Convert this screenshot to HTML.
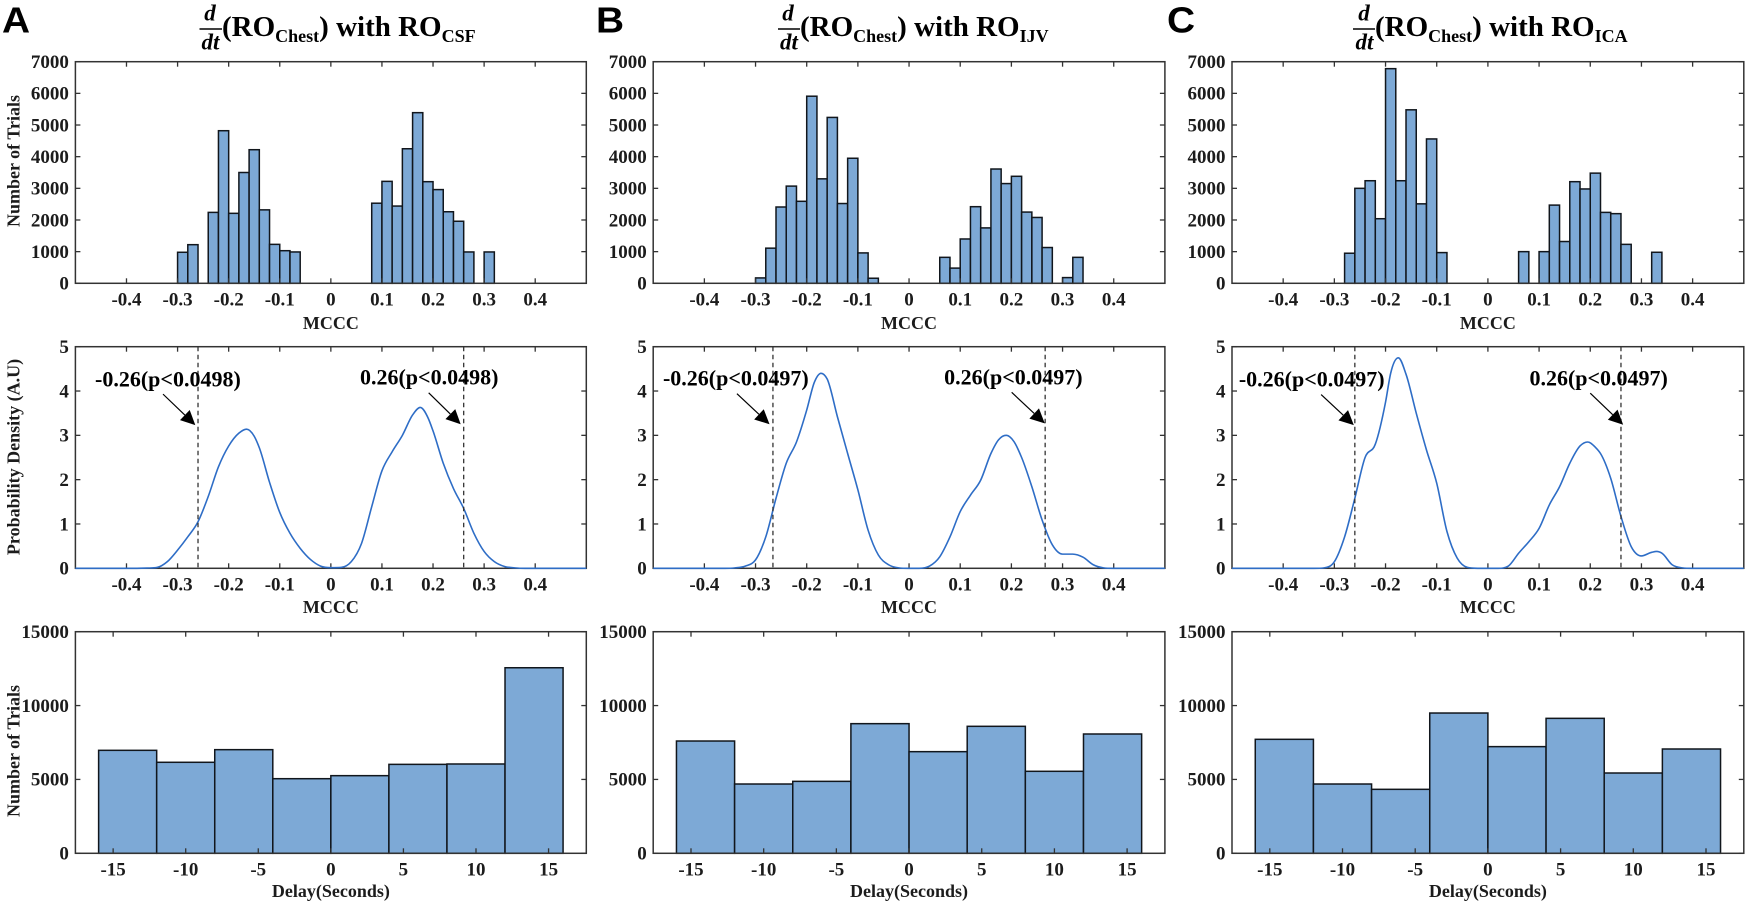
<!DOCTYPE html>
<html lang="en">
<head>
<meta charset="utf-8">
<title>MCCC and delay histograms</title>
<style>
html,body{margin:0;padding:0;background:#fff;width:1748px;height:904px;overflow:hidden}
svg{display:block}
text{font-family:"Liberation Serif",serif;font-weight:bold;fill:#1c1c1c}
</style>
</head>
<body>
<svg id="figure" xmlns="http://www.w3.org/2000/svg" width="1748" height="904" viewBox="0 0 1748 904">
  <rect x="0" y="0" width="1748" height="904" fill="#fff"/>

  <text transform="translate(2,32.7) scale(1.08,1)" style="font-family:'Liberation Sans',sans-serif;font-size:36px;fill:#000">A</text>
  <text transform="translate(596,32.7) scale(1.08,1)" style="font-family:'Liberation Sans',sans-serif;font-size:36px;fill:#000">B</text>
  <text transform="translate(1167,32.7) scale(1.08,1)" style="font-family:'Liberation Sans',sans-serif;font-size:36px;fill:#000">C</text>

  <g>
    <text x="210" y="20.5" text-anchor="middle" style="font-size:23px;font-style:italic;fill:#000">d</text>
    <line x1="199.5" x2="222" y1="29" y2="29" stroke="#000" stroke-width="1.6"/>
    <text x="210.5" y="49.5" text-anchor="middle" style="font-size:23px;font-style:italic;fill:#000">dt</text>
    <text x="222" y="36" style="font-size:29px;fill:#000">(RO<tspan dy="6" style="font-size:18px">Chest</tspan><tspan dy="-6">) with RO</tspan><tspan dy="6" style="font-size:18px">CSF</tspan></text>
  </g>
  <g>
    <text x="788" y="20.5" text-anchor="middle" style="font-size:23px;font-style:italic;fill:#000">d</text>
    <line x1="778" x2="800" y1="29" y2="29" stroke="#000" stroke-width="1.6"/>
    <text x="789" y="49.5" text-anchor="middle" style="font-size:23px;font-style:italic;fill:#000">dt</text>
    <text x="800" y="36" style="font-size:29px;fill:#000">(RO<tspan dy="6" style="font-size:18px">Chest</tspan><tspan dy="-6">) with RO</tspan><tspan dy="6" style="font-size:18px">IJV</tspan></text>
  </g>
  <g>
    <text x="1364" y="20.5" text-anchor="middle" style="font-size:23px;font-style:italic;fill:#000">d</text>
    <line x1="1353" x2="1375" y1="29" y2="29" stroke="#000" stroke-width="1.6"/>
    <text x="1364.5" y="49.5" text-anchor="middle" style="font-size:23px;font-style:italic;fill:#000">dt</text>
    <text x="1375" y="36" style="font-size:29px;fill:#000">(RO<tspan dy="6" style="font-size:18px">Chest</tspan><tspan dy="-6">) with RO</tspan><tspan dy="6" style="font-size:18px">ICA</tspan></text>
  </g>

  <text transform="translate(19.5,161) rotate(-90)" text-anchor="middle" style="font-size:18px">Number of Trials</text>
  <text transform="translate(19.5,457) rotate(-90)" text-anchor="middle" style="font-size:18px">Probability Density (A.U)</text>
  <text transform="translate(19.5,751) rotate(-90)" text-anchor="middle" style="font-size:18px">Number of Trials</text>
</svg>

<script>
// Histogram of MCCC: bin lower edges (bin width 0.02)
const mcccBinStarts = [-0.30,-0.28,-0.26,-0.24,-0.22,-0.20,-0.18,-0.16,-0.14,-0.12,-0.10,-0.08,-0.06,-0.04,-0.02,0,0.02,0.04,0.06,0.08,0.10,0.12,0.14,0.16,0.18,0.20,0.22,0.24,0.26,0.28,0.30,0.32];
const mcccBinWidth = 0.02;
const mcccTrialsA = [980,1220,0,2240,4820,2210,3500,4220,2320,1230,1030,990,0,0,0,0,0,0,0,2530,3220,2440,4250,5390,3210,2960,2260,1960,990,0,990,0];
const mcccTrialsB = [170,1110,2410,3070,2590,5910,3300,5240,2520,3950,960,160,0,0,0,0,0,0,820,480,1400,2420,1750,3610,3150,3380,2250,2080,1130,0,180,820];
const mcccTrialsC = [0,950,3000,3240,2040,6780,3240,5480,2510,4560,970,0,0,0,0,0,0,0,1000,0,1000,2470,1320,3210,2980,3480,2240,2200,1230,0,0,980];

// Density curves
const densityXA = [-0.5,-0.38,-0.36,-0.34,-0.32,-0.30,-0.28,-0.26,-0.24,-0.22,-0.20,-0.18,-0.165,-0.15,-0.14,-0.12,-0.10,-0.08,-0.06,-0.04,-0.02,0,0.02,0.04,0.06,0.08,0.10,0.12,0.14,0.16,0.175,0.19,0.20,0.22,0.24,0.26,0.28,0.30,0.32,0.34,0.36,0.38,0.5];
const densityA  = [0,0,0.005,0.02,0.15,0.41,0.71,1.05,1.62,2.29,2.76,3.05,3.14,2.98,2.72,1.94,1.26,0.79,0.45,0.20,0.05,0.015,0.02,0.15,0.56,1.39,2.20,2.63,3.00,3.46,3.63,3.40,3.10,2.37,1.80,1.35,0.79,0.38,0.15,0.04,0.01,0,0];
const densityXB = [-0.5,-0.36,-0.34,-0.32,-0.30,-0.28,-0.26,-0.24,-0.22,-0.20,-0.185,-0.172,-0.16,-0.14,-0.12,-0.10,-0.08,-0.06,-0.04,-0.02,0,0.02,0.04,0.06,0.08,0.10,0.12,0.14,0.16,0.175,0.19,0.205,0.22,0.24,0.26,0.28,0.30,0.32,0.34,0.36,0.38,0.40,0.5];
const densityB  = [0,0,0.01,0.05,0.19,0.71,1.58,2.37,2.85,3.57,4.20,4.40,4.27,3.42,2.59,1.77,0.86,0.30,0.08,0.01,0,0,0.05,0.26,0.71,1.28,1.65,1.99,2.59,2.90,3.00,2.86,2.50,1.84,1.09,0.53,0.32,0.32,0.25,0.08,0.01,0,0];
const densityXC = [-0.5,-0.34,-0.32,-0.30,-0.28,-0.26,-0.24,-0.22,-0.20,-0.19,-0.175,-0.16,-0.14,-0.12,-0.10,-0.08,-0.06,-0.04,-0.02,0,0.02,0.04,0.06,0.08,0.10,0.12,0.14,0.16,0.18,0.195,0.21,0.22,0.24,0.26,0.28,0.30,0.32,0.33,0.34,0.36,0.38,0.40,0.5];
const densityC  = [0,0,0.01,0.15,0.71,1.58,2.50,2.80,3.75,4.40,4.75,4.38,3.50,2.67,1.92,0.83,0.23,0.02,0,0,0,0.05,0.34,0.60,0.90,1.43,1.84,2.37,2.76,2.85,2.73,2.59,2.03,1.17,0.49,0.28,0.36,0.38,0.34,0.08,0.01,0,0];

// Significance thresholds
const thresholdsA = [-0.26,0.26];
const thresholdsB = [-0.266,0.266];
const thresholdsC = [-0.26,0.26];
const thresholdLabelsA = ['-0.26(p<0.0498)','0.26(p<0.0498)'];
const thresholdLabelsB = ['-0.26(p<0.0497)','0.26(p<0.0497)'];
const thresholdLabelsC = ['-0.26(p<0.0497)','0.26(p<0.0497)'];

// Delay histogram
const delayBinStarts = [-16,-12,-8,-4,0,4,8,12];
const delayBinWidth = 4;
const delayTrialsA = [6970,6160,7015,5050,5255,6020,6045,12560];
const delayTrialsB = [7600,4690,4870,8775,6880,8595,5550,8075];
const delayTrialsC = [7715,4690,4330,9495,7220,9135,5435,7060];

// Tick labels
const mcccTicks = [-0.4,-0.3,-0.2,-0.1,0,0.1,0.2,0.3,0.4];
const trialTicks = [0,1000,2000,3000,4000,5000,6000,7000];
const densityTicks = [0,1,2,3,4,5];
const delayTicks = [-15,-10,-5,0,5,10,15];
const delayTrialTicks = [0,5000,10000,15000];

const NS = 'http://www.w3.org/2000/svg';
const svg = document.getElementById('figure');
const FILL = '#7da9d6', EDGE = '#11161c', AXIS = '#333333', CURVE = '#2e6dc6';
const ROWS = [{top:61.7,bottom:283.3},{top:346.7,bottom:568.3},{top:631.7,bottom:853.3}];
const COLS = [{left:75.4,right:586.3,id:'a'},{left:653.2,right:1164.9,id:'b'},{left:1232,right:1743.8,id:'c'}];

function mk(tag, attrs, parent) {
  const n = document.createElementNS(NS, tag);
  for (const k in attrs) n.setAttribute(k, attrs[k]);
  (parent || svg).appendChild(n);
  return n;
}

function scale(d0, d1, r0, r1) {
  return v => r0 + (v - d0) / (d1 - d0) * (r1 - r0);
}

function drawAxes(g, id, col, row, sx, sy, xTicks, yTicks, xTitle, xFmt, tickBase, titleBase) {
  const frame = mk('rect', {x:col.left, y:row.top, width:col.right-col.left, height:row.bottom-row.top, fill:'none', stroke:AXIS, 'stroke-width':1.5}, g);
  
  
  xTicks.forEach(v => {
    const x = sx(v);
    const tb = mk('line', {x1:x, x2:x, y1:row.bottom, y2:row.bottom-5, stroke:AXIS, 'stroke-width':1.3}, g);
    
    
    const tt = mk('line', {x1:x, x2:x, y1:row.top, y2:row.top+5, stroke:AXIS, 'stroke-width':1.3}, g);
    
    
    const lb = mk('text', {x:x, y:tickBase, 'text-anchor':'middle', style:'font-size:19px'}, g);
    
    
    lb.textContent = xFmt(v);
  });
  yTicks.forEach(v => {
    const y = sy(v);
    const tl = mk('line', {x1:col.left, x2:col.left+5, y1:y, y2:y, stroke:AXIS, 'stroke-width':1.3}, g);
    
    
    const tr = mk('line', {x1:col.right, x2:col.right-5, y1:y, y2:y, stroke:AXIS, 'stroke-width':1.3}, g);
    
    
    const lb = mk('text', {x:col.left-6.5, y:y+6.3, 'text-anchor':'end', style:'font-size:19px'}, g);
    
    
    lb.textContent = String(v);
  });
  const t = mk('text', {x:(col.left+col.right)/2, y:titleBase, 'text-anchor':'middle', style:'font-size:18px'}, g);
  
  
  t.textContent = xTitle;
}

function drawBars(g, id, starts, width, values, sx, sy, strokeW) {
  values.forEach((v, i) => {
    if (v <= 0) return;
    const x0 = sx(starts[i]), x1 = sx(starts[i] + width), y = sy(v), y0 = sy(0);
    const bar = mk('rect', {x:x0, y:y, width:x1-x0, height:y0-y, fill:FILL, stroke:EDGE, 'stroke-width':strokeW}, g);
    
    
  });
}

// Hermite spline through the read points; tangents come from a three-point
// estimate and go flat at local extrema so peaks do not overshoot.
function smoothPath(xs, ys, sx, sy) {
  const p = xs.map((x, i) => [sx(x), sy(ys[i])]);
  const n = p.length;
  const slope = i => (p[i+1][1]-p[i][1]) / (p[i+1][0]-p[i][0]);
  const m = p.map((_, i) => {
    if (i === 0 || i === n-1) return 0;
    const h0 = p[i][0]-p[i-1][0], h1 = p[i+1][0]-p[i][0];
    const s0 = slope(i-1), s1 = slope(i);
    if (s0 * s1 <= 0) return 0;
    const t = (s0*h1 + s1*h0) / (h0+h1);
    return Math.sign(t) * Math.min(Math.abs(t), 3*Math.min(Math.abs(s0), Math.abs(s1)));
  });
  let d = 'M' + p[0][0].toFixed(2) + ' ' + p[0][1].toFixed(2);
  for (let i = 0; i < n-1; i++) {
    const h = (p[i+1][0]-p[i][0])/3;
    d += 'C' + (p[i][0]+h).toFixed(2) + ' ' + (p[i][1]+m[i]*h).toFixed(2) + ' ' + (p[i+1][0]-h).toFixed(2) + ' ' + (p[i+1][1]-m[i+1]*h).toFixed(2) + ' ' + p[i+1][0].toFixed(2) + ' ' + p[i+1][1].toFixed(2);
  }
  return d;
}

const fmtMccc = v => String(v);
const panels = [
  {trials:mcccTrialsA, dx:densityXA, dy:densityA, th:thresholdsA, lab:thresholdLabelsA, delay:delayTrialsA,
   tip:[-2.7,-3], start:[-35,-35], txt:[-103,-103.7], base:[4.1,4.15], tipV:[3.23,3.25], startV:[3.93,3.96]},
  {trials:mcccTrialsB, dx:densityXB, dy:densityB, th:thresholdsB, lab:thresholdLabelsB, delay:delayTrialsB,
   tip:[-3.4,-0.4], start:[-36,-33.5], txt:[-110,-101], base:[4.13,4.15], tipV:[3.25,3.27], startV:[3.94,3.97]},
  {trials:mcccTrialsC, dx:densityXC, dy:densityC, th:thresholdsC, lab:thresholdLabelsC, delay:delayTrialsC,
   tip:[-1,2.2], start:[-33.7,-30.7], txt:[-116,-91.5], base:[4.1,4.12], tipV:[3.23,3.24], startV:[3.92,3.95]}
];

panels.forEach((p, c) => {
  const col = COLS[c];
  const sxM = scale(-0.5, 0.5, col.left, col.right);

  // Row 1: MCCC histogram
  const g1 = mk('g', {});
  
  
  const sy1 = scale(0, 7000, ROWS[0].bottom, ROWS[0].top);
  drawBars(g1, 'mccc-hist-' + col.id, mcccBinStarts, mcccBinWidth, p.trials, sxM, sy1, 1.5);
  drawAxes(g1, 'mccc-hist-' + col.id, col, ROWS[0], sxM, sy1, mcccTicks, trialTicks, 'MCCC', fmtMccc, 305.5, 329);

  // Row 2: density
  const g2 = mk('g', {});
  
  
  const sy2 = scale(0, 5, ROWS[1].bottom, ROWS[1].top);
  drawAxes(g2, 'density-' + col.id, col, ROWS[1], sxM, sy2, mcccTicks, densityTicks, 'MCCC', fmtMccc, 590.5, 613);
  const curve = mk('path', {d:smoothPath(p.dx, p.dy, sxM, sy2), fill:'none', stroke:CURVE, 'stroke-width':1.6}, g2);
  
  
  p.th.forEach((t, i) => {
    const x = sxM(t);
    const dash = mk('line', {x1:x, x2:x, y1:ROWS[1].top, y2:ROWS[1].bottom, stroke:'#333', 'stroke-width':1.3, 'stroke-dasharray':'4.5 3.5'}, g2);
    
    
    const label = mk('text', {x:x+p.txt[i], y:sy2(p.base[i]), style:'font-size:22px;fill:#000'}, g2);
    
    
    label.textContent = p.lab[i];
    const tx = x+p.tip[i], ty = sy2(p.tipV[i]), sx0 = x+p.start[i], sy0 = sy2(p.startV[i]);
    const len = Math.hypot(tx-sx0, ty-sy0), ux = (tx-sx0)/len, uy = (ty-sy0)/len;
    const bx = tx-ux*14.5, by = ty-uy*14.5;
    const shaft = mk('line', {x1:sx0, y1:sy0, x2:bx, y2:by, stroke:'#000', 'stroke-width':1.2}, g2);
    
    
    const head = mk('polygon', {points:[tx,ty, bx-uy*7,by+ux*7, bx+uy*7,by-ux*7].join(' '), fill:'#000'}, g2);
    
    
  });

  // Row 3: delay histogram
  const g3 = mk('g', {});
  
  
  const sxD = scale(-17.6, 17.6, col.left, col.right);
  const sy3 = scale(0, 15000, ROWS[2].bottom, ROWS[2].top);
  drawBars(g3, 'delay-hist-' + col.id, delayBinStarts, delayBinWidth, p.delay, sxD, sy3, 1.5);
  drawAxes(g3, 'delay-hist-' + col.id, col, ROWS[2], sxD, sy3, delayTicks, delayTrialTicks, 'Delay(Seconds)', fmtMccc, 875.5, 897);
});
</script>
</body>
</html>
